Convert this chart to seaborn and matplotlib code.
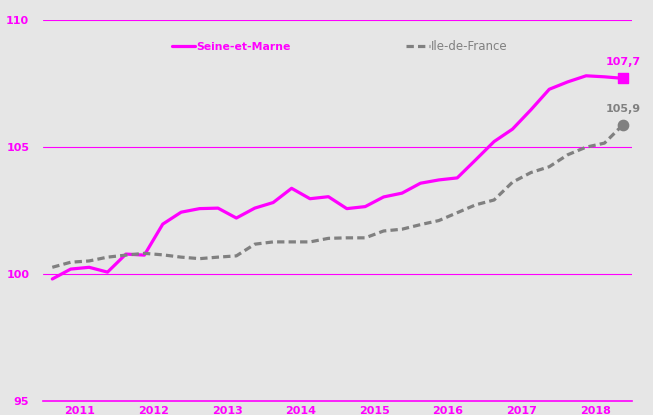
import numpy as np
import pandas as pd
import seaborn as sns
import matplotlib.pyplot as plt
from matplotlib.lines import Line2D

# quarterly index, Q1 2011 -> Q4 2018
years = [2011, 2012, 2013, 2014, 2015, 2016, 2017, 2018]
seine_et_marne = [99.80, 100.19, 100.26, 100.07, 100.78, 100.74, 101.96, 102.43,
                  102.57, 102.59, 102.20, 102.59, 102.81, 103.37, 102.96, 103.04,
                  102.57, 102.65, 103.03, 103.18, 103.57, 103.70, 103.78, 104.49,
                  105.21, 105.70, 106.46, 107.27, 107.56, 107.80, 107.76, 107.70]
ile_de_france = [100.26, 100.46, 100.51, 100.66, 100.74, 100.81, 100.75, 100.66,
                 100.60, 100.66, 100.71, 101.17, 101.26, 101.26, 101.26, 101.40,
                 101.42, 101.42, 101.69, 101.76, 101.94, 102.10, 102.41, 102.72,
                 102.91, 103.61, 103.99, 104.22, 104.69, 104.99, 105.15, 105.87]
last_labels = ["107,7", "105,9"]

MAGENTA = "#ff00ff"
GREY = "#808080"
BG = "#e6e6e6"

t = [years[0] + (i + 0.5) / 4 for i in range(len(seine_et_marne))]
df = pd.DataFrame({
    "t": t * 2,
    "indice": seine_et_marne + ile_de_france,
    "zone": ["Seine-et-Marne"] * len(t) + ["Ile-de-France"] * len(t),
})

sns.set_theme(style="white")
plt.rcParams["font.family"] = ["DejaVu Sans"]

fig = plt.figure(figsize=(6.53, 4.15), dpi=100, facecolor=BG)
ax = fig.add_axes([0.066, 0.034, 0.902, 0.918], facecolor=BG)

sns.lineplot(data=df, x="t", y="indice", hue="zone", style="zone",
             palette={"Seine-et-Marne": MAGENTA, "Ile-de-France": GREY},
             dashes={"Seine-et-Marne": "", "Ile-de-France": (2.3, 1.3)},
             linewidth=2.3, legend=False, ax=ax, zorder=3)

# end markers and labels
ax.scatter([t[-1]], [seine_et_marne[-1]], marker="s", s=55, color=MAGENTA, zorder=4)
ax.scatter([t[-1]], [ile_de_france[-1]], marker="o", s=55, color=GREY, zorder=4)
ax.annotate(last_labels[0], (t[-1], seine_et_marne[-1]), xytext=(0, 8),
            textcoords="offset points", ha="center", va="bottom",
            color=MAGENTA, fontsize=8, fontweight="bold")
ax.annotate(last_labels[1], (t[-1], ile_de_france[-1]), xytext=(0, 8),
            textcoords="offset points", ha="center", va="bottom",
            color=GREY, fontsize=8, fontweight="bold")

ax.set_xlim(years[0], years[-1] + 1)
ax.set_ylim(95, 110)
ax.set_yticks([95, 100, 105, 110])
ax.set_yticklabels(["95", "100", "105", "110"])
for y in [100, 105, 110]:
    ax.axhline(y, color=MAGENTA, linewidth=0.8, zorder=1)

ax.set_xticks(list(range(years[0], years[-1] + 2)))
ax.set_xticklabels([])
ax.set_xticks([y + 0.5 for y in years], minor=True)
ax.set_xticklabels([str(y) for y in years], minor=True)
ax.tick_params(axis="x", which="major", length=5, color=MAGENTA, width=1, direction="out")
ax.tick_params(axis="x", which="minor", length=0, pad=4, labelcolor=MAGENTA, labelsize=8)
ax.tick_params(axis="y", length=0, pad=10, labelcolor=MAGENTA, labelsize=8)
for lab in ax.get_xticklabels(minor=True) + ax.get_yticklabels():
    lab.set_fontweight("bold")

for s in ["left", "right", "top"]:
    ax.spines[s].set_visible(False)
ax.spines["bottom"].set_color(MAGENTA)
ax.spines["bottom"].set_linewidth(1.2)
ax.set_xlabel("")
ax.set_ylabel("")

handles = [Line2D([], [], color=MAGENTA, lw=2.3),
           Line2D([], [], color=GREY, lw=2.3, dashes=(2.3, 1.3))]
leg = ax.legend(handles, ["Seine-et-Marne", "Ile-de-France"], ncol=2, frameon=False,
                loc="center left", bbox_to_anchor=(0.2, 0.93), columnspacing=9.8,
                handlelength=2.0, handletextpad=0.1, fontsize=8.5)
texts = leg.get_texts()
texts[0].set_color(MAGENTA)
texts[0].set_fontweight("bold")
texts[0].set_fontsize(7.8)
texts[1].set_color(GREY)

fig.savefig("out.png", dpi=100, facecolor=BG)
